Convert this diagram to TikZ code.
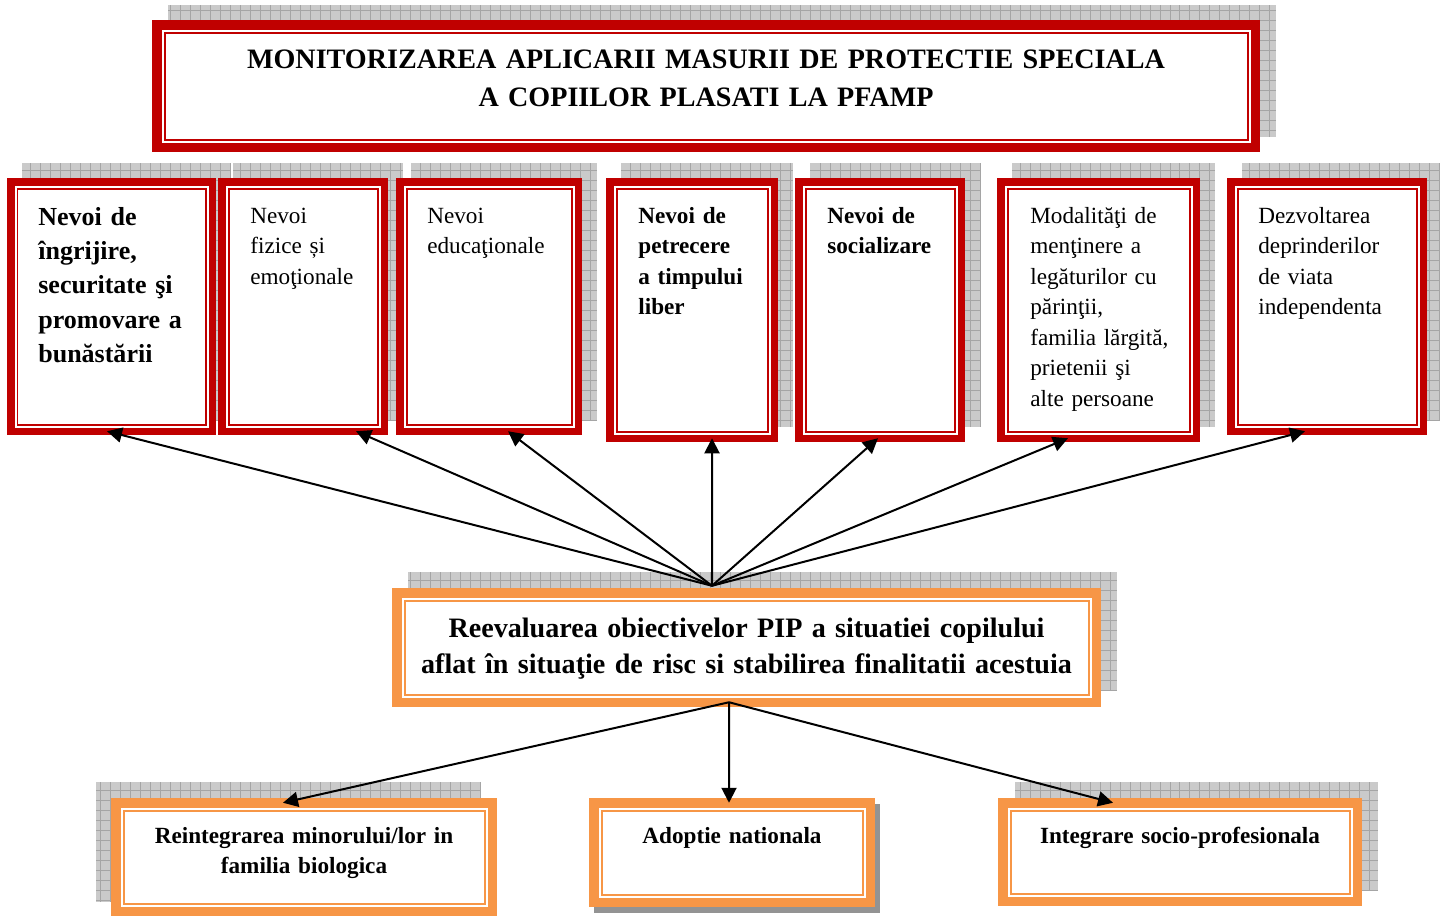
\documentclass[tikz,border=0pt]{standalone}
\usepackage{fontspec}
\setmainfont{Liberation Serif}
\usetikzlibrary{fit,arrows.meta}
\definecolor{rosu}{RGB}{192,0,0}
\definecolor{portocaliu}{RGB}{247,150,70}
\definecolor{umbragri}{RGB}{202,202,202}
\definecolor{gridgri}{RGB}{165,165,165}
% umbra cu grila: x1,y1,x2,y2 (px)
\newcommand\umbra[4]{\fill[umbragri] (#1,#2) rectangle (#3,#4);
 \draw[gridgri, line width=0.3pt, step=0.2cm] (#1,#4) grid (#3,#2);}
% cadru dublu: nume, x1,y1,x2,y2, culoare, grosime (px)
\newcommand\cadru[7]{\node[fit={(#2+#7/2,#3+#7/2) (#4-#7/2,#5-#7/2)}, inner sep=0pt, outer sep=0pt, draw=#6, line width=#7*0.02cm, fill=white] (#1) {};
 \draw[#6, line width=0.04cm] ([shift={(#7/2+3,#7/2+3)}]#1.north west) rectangle ([shift={(-#7/2-3,-#7/2-3)}]#1.south east);}
\begin{document}
\begin{tikzpicture}[x=0.02cm, y=-0.02cm,
  pfeil/.style={line width=0.04cm, -{Triangle[length=0.3cm, width=0.3cm]}},
  titlu/.style={font=\fontsize{16}{22.1}\selectfont\bfseries, text width=22cm, align=center, inner sep=0pt, anchor=base},
  nevoi/.style={font=\fontsize{13.2}{17.4}\selectfont, text width=3.6cm, align=left, inner sep=0pt, anchor=base west},
  nevoib/.style={nevoi, font=\fontsize{13.2}{17.4}\selectfont\bfseries},
  final/.style={font=\fontsize{13.2}{17.6}\selectfont\bfseries, text width=7cm, align=center, inner sep=0pt, anchor=base}]
\useasboundingbox (0,0) rectangle (1440,916);
% umbre
\umbra{168}{5}{1276}{137}
\foreach \a/\b/\c/\d in {7/178/216/435, 218/178/388/435, 396/178/582/435, 606/178/778/442, 795/178/965/442, 997/178/1200/442, 1227/178/1427/435}
 {\umbra{\a+15}{\b-15}{\c+15}{\d-15}}
\umbra{408}{572}{1117}{691}
\umbra{96}{782}{481}{902}
\fill[gray!85] (594,804) rectangle (880,913);
\umbra{1015}{782}{1378}{890}
% titlu
\cadru{titlu}{152}{20}{1260}{152}{rosu}{9.5}
\node[titlu] (ttext) at (706,68) {MONITORIZAREA APLICARII MASURII DE PROTECTIE SPECIALA\\ A COPIILOR PLASATI LA PFAMP};
% nevoi
\cadru{r1}{7}{178}{216}{435}{rosu}{7.5}
\cadru{r2}{218}{178}{388}{435}{rosu}{7.5}
\cadru{r3}{396}{178}{582}{435}{rosu}{7.5}
\cadru{r4}{606}{178}{778}{442}{rosu}{7.5}
\cadru{r5}{795}{178}{965}{442}{rosu}{7.5}
\cadru{r6}{997}{178}{1200}{442}{rosu}{7.5}
\cadru{r7}{1227}{178}{1427}{435}{rosu}{7.5}
\node[nevoib, font=\fontsize{14.8}{19.6}\selectfont\bfseries] (t1) at (38,225) {Nevoi de\\ îngrijire,\\ securitate şi\\ promovare a\\ bunăstării};
\node[nevoi] (t2) at (250,223) {Nevoi\\ fizice și\\ emoţionale};
\node[nevoi] (t3) at (427,223) {Nevoi\\ educaţionale};
\node[nevoib] (t4) at (638,223) {Nevoi de\\ petrecere\\ a timpului\\ liber};
\node[nevoib] (t5) at (827,223) {Nevoi de\\ socializare};
\node[nevoi] (t6) at (1030,223) {Modalităţi de\\ menţinere a\\ legăturilor cu\\ părinţii,\\ familia lărgită,\\ prietenii şi\\ alte persoane};
\node[nevoi] (t7) at (1258,223) {Dezvoltarea\\ deprinderilor\\ de viata\\ independenta};
% reevaluare
\cadru{C}{392}{588}{1101}{707}{portocaliu}{9.5}
\node[titlu, text width=14cm, font=\fontsize{16}{21}\selectfont\bfseries] (ctext) at (746.5,637) {Reevaluarea obiectivelor PIP a situatiei copilului\\ aflat în situaţie de risc si stabilirea finalitatii acestuia};
% finalitati
\cadru{B1}{111}{798}{497}{916}{portocaliu}{9.5}
\cadru{B2}{589}{798}{875}{907}{portocaliu}{9.5}
\cadru{B3}{998}{798}{1362}{906}{portocaliu}{9.5}
\node[final] (b1text) at (304,843) {Reintegrarea minorului/lor in\\ familia biologica};
\node[final] (b2text) at (732,843) {Adoptie nationala};
\node[final] (b3text) at (1180,843) {Integrare socio-profesionala};
% sageti
\coordinate (sus) at ([shift={(-34.5,-7)}]C.north);
\coordinate (jos) at ([shift={(-17.5,0)}]C.south);
\draw[pfeil] (sus) -- ([shift={(-4.5,0)}]r1.south);
\draw[pfeil] (sus) -- ([shift={(53,0)}]r2.south);
\draw[pfeil] (sus) -- ([shift={(19,0)}]r3.south);
\draw[pfeil] (sus) -- ([shift={(20,0)}]r4.south);
\draw[pfeil] (sus) -- ([shift={(-2,0)}]r5.south);
\draw[pfeil] (sus) -- ([shift={(-30.5,0)}]r6.south);
\draw[pfeil] (sus) -- ([shift={(-22,0)}]r7.south);
\draw[pfeil] (jos) -- ([shift={(-21,0)}]B1.north);
\draw[pfeil] (jos) -- ([shift={(-3,0)}]B2.north);
\draw[pfeil] (jos) -- ([shift={(-67,0)}]B3.north);
\end{tikzpicture}
\end{document}
